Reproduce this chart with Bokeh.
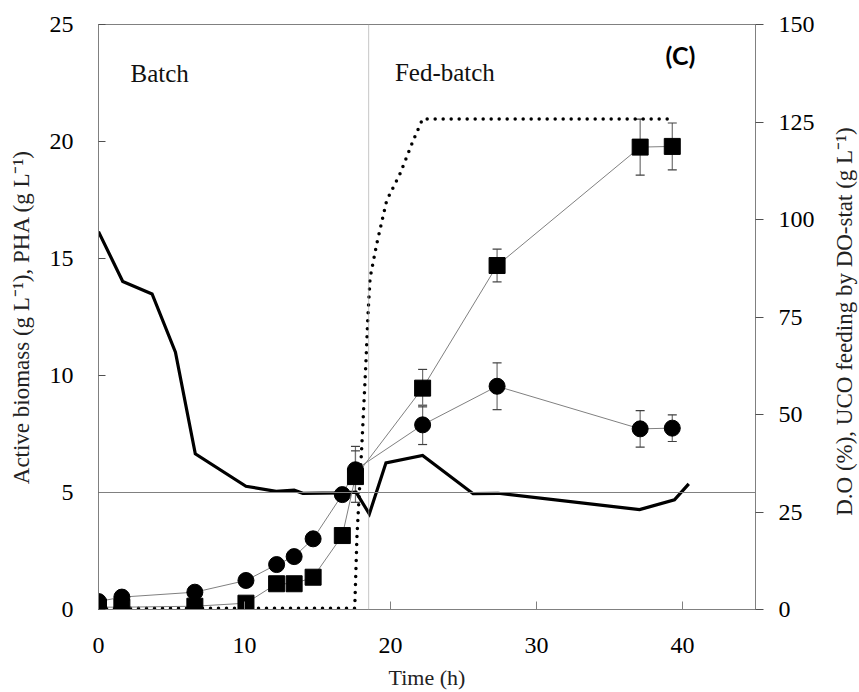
import math
from bokeh.plotting import figure
from bokeh.layouts import row
from bokeh.models import (Range1d, LinearAxis, FixedTicker, Span, Label,
                          Whisker, ColumnDataSource, TeeHead)
from bokeh.core.properties import value
from bokeh.embed import file_html
from bokeh.resources import INLINE

# Sampling times (h) for biomass and PHA
time_h = [0, 1.6, 6.6, 10.1, 12.2, 13.4, 14.7, 16.7, 17.6, 22.2, 27.3, 37.1, 39.3]
# Active biomass (g/L) and its standard deviation
biomass = [0.34, 0.53, 0.74, 1.24, 1.92, 2.26, 3.02, 4.91, 5.97, 7.89, 9.54, 7.72, 7.75]
biomass_sd = [0, 0, 0, 0, 0, 0, 0, 0, 1.0, 0.84, 1.0, 0.78, 0.57]
# PHA (g/L) and its standard deviation
pha = [0.10, 0.10, 0.14, 0.27, 1.10, 1.10, 1.38, 3.16, 5.68, 9.46, 14.70, 19.76, 19.79]
pha_sd = [0, 0, 0, 0, 0, 0, 0, 0, 1.1, 0.8, 0.7, 1.2, 1.0]

# Dissolved oxygen (%) trace
do_time = [0, 1.66, 3.67, 5.27, 6.63, 10.1, 12.17, 13.4, 14.0, 16.66, 17.64, 18.55,
           19.69, 22.2, 25.66, 27.37, 37.06, 39.45, 40.43]
do_pct = [96.9, 84.1, 80.9, 66.0, 39.9, 31.6, 30.3, 30.6, 29.8, 29.9, 30.1, 24.5,
          37.6, 39.5, 29.7, 29.8, 25.6, 28.1, 32.2]

# Cumulative UCO fed by DO-stat (g/L)
feed_time = [0, 17.55, 17.7, 18.03, 18.3, 18.45, 18.6, 19.06, 19.74, 20.65, 21.56, 22.2, 39.06]
feed_gl = [0.3, 0.3, 18.5, 41.6, 62.0, 75.0, 85.0, 93.8, 104.9, 111.7, 120.3, 125.8, 125.8]

left_ticks = [0, 5, 10, 15, 20, 25]
right_ticks = [0, 25, 50, 75, 100, 125, 150]
x_ticks = [0, 10, 20, 30, 40]

left_title = "Active biomass (g L\u207b\u00b9), PHA (g L\u207b\u00b9)"
right_title = "D.O (%), UCO feeding  by DO-stat (g L\u207b\u00b9)"

FEED_START = 18.5   # switch from batch to fed-batch (h)
DO_SETPOINT = 5     # on left scale (= 30 % DO)

SERIF = "Liberation Serif"
AXIS_GRAY = "#808080"
TITLE_STRIP = 30    # width of the strip that carries the right-hand title

p = figure(width=859 - TITLE_STRIP, height=692, output_backend="svg",
           toolbar_location=None, x_range=Range1d(0, 45), y_range=Range1d(0, 25),
           min_border_left=98, min_border_right=859 - TITLE_STRIP - 755,
           min_border_top=24, min_border_bottom=83)
p.extra_y_ranges = {"right": Range1d(0, 150)}
p.grid.visible = False
p.outline_line_color = AXIS_GRAY
p.background_fill_color = "white"
p.border_fill_color = "white"

# Bottom axis
xa = p.xaxis[0]
xa.ticker = FixedTicker(ticks=x_ticks)
xa.major_tick_in = 8
xa.major_tick_out = 0
xa.minor_tick_line_color = None
xa.axis_line_color = AXIS_GRAY
xa.major_tick_line_color = AXIS_GRAY
xa.major_label_text_font = SERIF
xa.major_label_text_font_size = "24px"
xa.major_label_text_color = "black"
xa.major_label_standoff = 28
xa.axis_label = "Time (h)"
xa.axis_label_text_font = SERIF
xa.axis_label_text_font_size = "22px"
xa.axis_label_text_font_style = "normal"
xa.axis_label_text_color = "#222222"
xa.axis_label_standoff = 9

# Left axis
ya = p.yaxis[0]
ya.ticker = FixedTicker(ticks=left_ticks)
ya.major_tick_in = 7
ya.major_tick_out = 0
ya.minor_tick_line_color = None
ya.axis_line_color = AXIS_GRAY
ya.major_tick_line_color = "#505050"
ya.major_label_text_font = SERIF
ya.major_label_text_font_size = "24px"
ya.major_label_text_color = "black"
ya.major_label_standoff = 25
ya.axis_label = left_title
ya.axis_label_text_font = SERIF
ya.axis_label_text_font_size = "23px"
ya.axis_label_text_font_style = "normal"
ya.axis_label_text_color = "#222222"
ya.axis_label_standoff = 13

# Right axis (its title sits in the strip beside the plot)
ra = LinearAxis(y_range_name="right", ticker=FixedTicker(ticks=right_ticks))
ra.major_tick_in = 0
ra.major_tick_out = 8
ra.minor_tick_line_color = None
ra.axis_line_color = AXIS_GRAY
ra.major_tick_line_color = "#505050"
ra.major_label_text_font = SERIF
ra.major_label_text_font_size = "24px"
ra.major_label_text_color = "black"
ra.major_label_standoff = 15
p.add_layout(ra, "right")

# Reference lines: DO set point and start of feeding
p.add_layout(Span(location=DO_SETPOINT, dimension="width", line_color=AXIS_GRAY,
                  line_width=1.2))
p.add_layout(Span(location=FEED_START, dimension="height", line_color="#a0a0a0",
                  line_width=1.2, line_dash="1 1"))

# UCO feeding (dotted) and DO (thick solid) on the right scale
p.line(feed_time, feed_gl, y_range_name="right", line_color="black", line_width=3.5,
       line_dash="0 8", line_cap="round")
p.line(do_time, do_pct, y_range_name="right", line_color="black", line_width=3.2,
       line_join="miter")

# Error bars
src_b = ColumnDataSource(dict(
    t=[t for t, s in zip(time_h, biomass_sd) if s > 0],
    lo=[v - s for v, s in zip(biomass, biomass_sd) if s > 0],
    hi=[v + s for v, s in zip(biomass, biomass_sd) if s > 0]))
src_p = ColumnDataSource(dict(
    t=[t for t, s in zip(time_h, pha_sd) if s > 0],
    lo=[v - s for v, s in zip(pha, pha_sd) if s > 0],
    hi=[v + s for v, s in zip(pha, pha_sd) if s > 0]))
for src in (src_b, src_p):
    w = Whisker(base="t", lower="lo", upper="hi", source=src, level="underlay",
                line_color="#707070", line_width=1.2,
                upper_head=TeeHead(size=9, line_color="#404040", line_width=1.2),
                lower_head=TeeHead(size=9, line_color="#404040", line_width=1.2))
    p.add_layout(w)

# Active biomass (circles) and PHA (squares)
p.line(time_h, biomass, line_color=AXIS_GRAY, line_width=1)
p.line(time_h, pha, line_color=AXIS_GRAY, line_width=1)
p.scatter(time_h, pha, marker="square", size=16, fill_color="black", line_color="black")
p.scatter(time_h, biomass, marker="circle", size=16, fill_color="black", line_color="black")

# Phase annotations
p.add_layout(Label(x=2.19, y=22.9, text="Batch", text_font=SERIF,
                   text_font_size="25px", text_color="#111111",
                   text_baseline="alphabetic"))
p.add_layout(Label(x=20.3, y=22.96, text="Fed-batch", text_font=SERIF,
                   text_font_size="25px", text_color="#111111",
                   text_baseline="alphabetic"))
p.add_layout(Label(x=39.86, y=23.68, text="(C)", text_font="Lato",
                   text_font_style="bold", text_font_size="25px", text_color="black",
                   text_align="center", text_baseline="middle"))

# Narrow strip with the right-hand title, reading bottom to top
strip = figure(width=TITLE_STRIP, height=692, output_backend="svg",
               toolbar_location=None, x_range=Range1d(0, TITLE_STRIP),
               y_range=Range1d(0, 692), x_axis_type=None, y_axis_type=None,
               min_border=0)
strip.grid.visible = False
strip.outline_line_color = None
strip.text(x=[15], y=[344], text=[right_title], angle=math.pi / 2,
           text_align="center", text_baseline="middle",
           text_font=value(SERIF), text_font_size="23px", text_color="#222222")

layout = row(p, strip, spacing=0)
open("out.html", "w").write(file_html(layout, INLINE))
